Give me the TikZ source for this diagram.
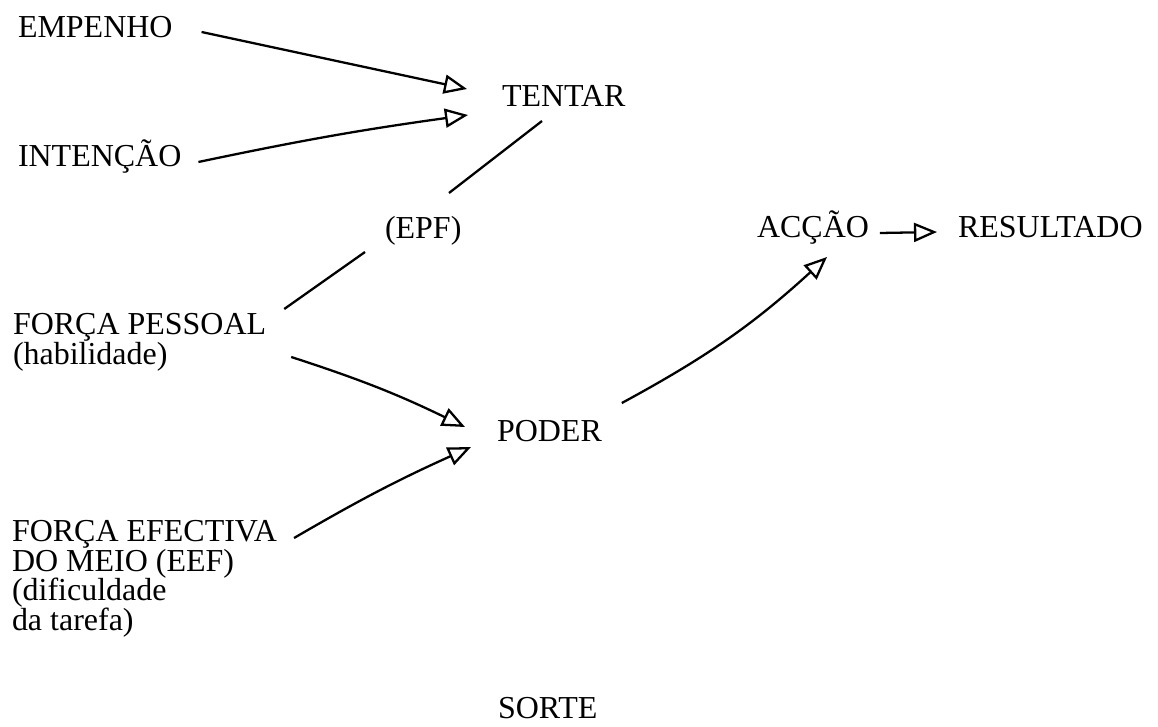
\documentclass[tikz,border=0pt]{standalone}
\usepackage{fontspec}
\setmainfont{Liberation Serif}
\usetikzlibrary{arrows.meta}
\begin{document}
\begin{tikzpicture}[x=0.02cm, y=-0.02cm,
        every node/.style={inner sep=0pt, outer sep=0pt, font=\fontsize{18.2pt}{17pt}\selectfont},
        lbl/.style={anchor=base west},
        blk/.style={anchor=north west, align=left},
        ln/.style={line width=1.3pt},
        arr/.style={line width=1.3pt, -{Triangle[open, length=0.46cm, width=0.38cm, line width=1.3pt]}}]
    \useasboundingbox (0,0) rectangle (1158,726);
    % labels
    \node[lbl] (empenho) at (18,38) {EMPENHO};
    \node[lbl] (intencao) at (18,167) {INTENÇÃO};
    \node[lbl] (tentar) at (502,107) {TENTAR};
    \node[lbl] (epf) at (385,238) {(EPF)};
    \node[lbl] (accao) at (757,237) {ACÇÃO};
    \node[lbl] (resultado) at (958,237) {RESULTADO};
    \node[blk] (pessoal) at (13,313) {FORÇA PESSOAL\\(habilidade)};
    \node[lbl] (poder) at (497,441) {PODER};
    \node[blk] (efectiva) at (12,520) {FORÇA EFECTIVA\\DO MEIO (EEF)\\(dificuldade\\da tarefa)};
    \node[lbl] (sorte) at (498,718) {SORTE};
    % connectors
    \draw[arr] ([shift={(29,-6)}]empenho.base east) -- ([shift={(-35,-18)}]tentar.base west);
    \draw[arr] ([shift={(17,-5)}]intencao.base east) to[bend left=2] ([shift={(-34,8)}]tentar.base west);
    \draw[ln] ([shift={(40,14)}]tentar.base west) -- ([shift={(64,-45)}]epf.base west);
    \draw[ln] ([shift={(-20,14)}]epf.base west) -- ([shift={(18,-4)}]pessoal.north east);
    \draw[arr] ([shift={(25,44)}]pessoal.north east) to[bend left=4] ([shift={(-32,-14)}]poder.base west);
    \draw[arr] ([shift={(17,18)}]efectiva.north east) to[bend left=3] ([shift={(-26,6)}]poder.base west);
    \draw[arr] ([shift={(20,-38)}]poder.base east) to[bend right=7] ([shift={(70,20)}]accao.base west);
    \draw[arr] ([shift={(11,-4)}]accao.base east) -- ([shift={(-21,-5)}]resultado.base west);
\end{tikzpicture}
\end{document}
